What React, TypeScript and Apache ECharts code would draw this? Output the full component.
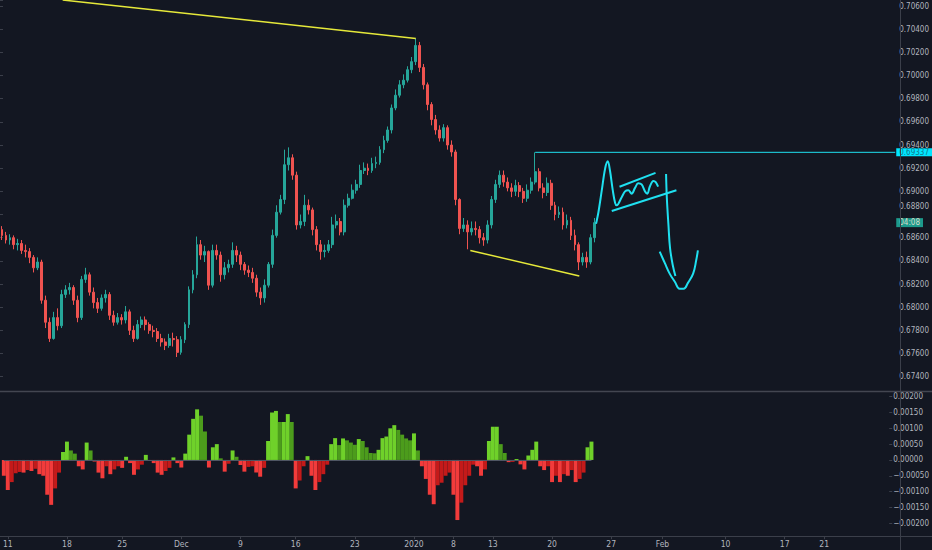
import { useEffect, useRef } from "react";
import * as echarts from "echarts";

// ---- price data (one candle per slot) ----
const firstOpen = 0.6867;
const closes = [
  0.6862, 0.6858, 0.686, 0.6854, 0.6855, 0.6849, 0.6848, 0.6843, 0.6834, 0.6839,
  0.6806, 0.6787, 0.6773, 0.6791, 0.6784, 0.6811, 0.6815, 0.6817, 0.6806, 0.6791,
  0.6824, 0.6828, 0.6813, 0.6804, 0.6799, 0.6808, 0.6811, 0.6793, 0.6787, 0.6791,
  0.6789, 0.6796, 0.678, 0.6773, 0.6785, 0.6789, 0.6785, 0.678, 0.6779, 0.6773,
  0.677, 0.6767, 0.6773, 0.6772, 0.6761, 0.6772, 0.6785, 0.6815, 0.6828, 0.6854,
  0.6845, 0.6848, 0.6819, 0.6849, 0.6845, 0.6828, 0.6834, 0.6837, 0.6849, 0.6845,
  0.6837, 0.6832, 0.683, 0.6825, 0.6813, 0.6808, 0.6819, 0.6837, 0.6862, 0.6882,
  0.6893, 0.6923, 0.6929, 0.6914, 0.6871, 0.6874, 0.6888, 0.6884, 0.6867, 0.6854,
  0.6848, 0.6849, 0.6854, 0.6871, 0.6874, 0.6865, 0.6888, 0.6894, 0.6901, 0.6906,
  0.6918, 0.692, 0.6918, 0.6924, 0.6925, 0.6936, 0.6944, 0.6953, 0.6972, 0.6983,
  0.6992, 0.6996, 0.7005, 0.7012, 0.7026, 0.7007, 0.6992, 0.6975, 0.6962, 0.6953,
  0.6946, 0.6955, 0.694, 0.6934, 0.6893, 0.6868, 0.6871, 0.6865, 0.6868, 0.6867,
  0.686, 0.6858, 0.6871, 0.6893, 0.6906, 0.6914, 0.6908, 0.6903, 0.69, 0.6905,
  0.69, 0.6894, 0.6901, 0.6908, 0.6917, 0.6903, 0.6899, 0.6907, 0.6888, 0.688,
  0.6882, 0.6871, 0.6875, 0.6862, 0.6854, 0.6839, 0.6843, 0.6839, 0.686, 0.6873,
];
const highs = [
  0.687, 0.6865, 0.6863, 0.6862, 0.6859, 0.6858, 0.6854, 0.6851, 0.6845, 0.6843,
  0.6841, 0.681, 0.6791, 0.6796, 0.6799, 0.6815, 0.6819, 0.6821, 0.6819, 0.681,
  0.6827, 0.6834, 0.683, 0.6817, 0.6808, 0.6811, 0.6815, 0.6813, 0.6797, 0.6795,
  0.6794, 0.6801, 0.6798, 0.6784, 0.6789, 0.6792, 0.6792, 0.6787, 0.6784, 0.6782,
  0.6777, 0.6773, 0.6777, 0.6778, 0.6775, 0.6775, 0.6787, 0.6818, 0.6832, 0.6861,
  0.6858, 0.6853, 0.6849, 0.6854, 0.6854, 0.6848, 0.6839, 0.6841, 0.6856, 0.6853,
  0.6848, 0.6839, 0.6836, 0.6834, 0.6828, 0.6817, 0.6824, 0.6839, 0.6867, 0.6888,
  0.6897, 0.6936, 0.6938, 0.6932, 0.6917, 0.688, 0.6897, 0.6893, 0.6886, 0.687,
  0.6858, 0.6854, 0.6858, 0.6878, 0.688, 0.6877, 0.6893, 0.6898, 0.6906, 0.691,
  0.6923, 0.6925, 0.6924, 0.6929, 0.693, 0.6939, 0.6948, 0.6956, 0.6975, 0.6988,
  0.6996, 0.7001, 0.7008, 0.7016, 0.7032, 0.7029, 0.701, 0.6994, 0.6977, 0.6966,
  0.6957, 0.6958, 0.6957, 0.6944, 0.6936, 0.6894, 0.6877, 0.6875, 0.6874, 0.6874,
  0.687, 0.6864, 0.6875, 0.6896, 0.691, 0.6918, 0.6918, 0.6912, 0.6907, 0.691,
  0.6908, 0.6903, 0.6906, 0.6912, 0.69337, 0.692, 0.6907, 0.6912, 0.691, 0.6891,
  0.6887, 0.6886, 0.688, 0.6878, 0.6867, 0.6856, 0.6847, 0.6848, 0.6863, 0.6877,
];
const lows = [
  0.6858, 0.6855, 0.6854, 0.685, 0.6849, 0.6846, 0.6843, 0.6838, 0.683, 0.6832,
  0.6803, 0.6782, 0.677, 0.6772, 0.678, 0.6782, 0.6808, 0.6811, 0.6802, 0.6787,
  0.6789, 0.6821, 0.681, 0.6799, 0.6795, 0.6797, 0.6804, 0.6789, 0.6784, 0.6785,
  0.6785, 0.6786, 0.6776, 0.677, 0.6772, 0.6782, 0.678, 0.6777, 0.6774, 0.677,
  0.6766, 0.6763, 0.6765, 0.6766, 0.6757, 0.6759, 0.6769, 0.6782, 0.6812, 0.6825,
  0.6841, 0.6839, 0.6815, 0.6817, 0.6841, 0.6822, 0.6824, 0.683, 0.6834, 0.6839,
  0.6832, 0.6828, 0.6826, 0.6821, 0.6809, 0.6802, 0.6804, 0.6817, 0.6834, 0.686,
  0.688, 0.6889, 0.6918, 0.691, 0.6867, 0.6868, 0.687, 0.688, 0.6862, 0.6849,
  0.6841, 0.6843, 0.6847, 0.6851, 0.6868, 0.6862, 0.6862, 0.6886, 0.6893, 0.6898,
  0.6903, 0.6915, 0.6914, 0.6916, 0.692, 0.6923, 0.6933, 0.6942, 0.695, 0.697,
  0.6981, 0.6989, 0.6994, 0.7002, 0.7009, 0.7003, 0.6988, 0.697, 0.6957, 0.6949,
  0.6943, 0.6943, 0.6936, 0.693, 0.6888, 0.6863, 0.6865, 0.685, 0.6862, 0.6862,
  0.6855, 0.6853, 0.6855, 0.6868, 0.689, 0.6903, 0.6904, 0.69, 0.6895, 0.6896,
  0.6895, 0.689, 0.6891, 0.6898, 0.6906, 0.69, 0.6894, 0.6896, 0.6884, 0.6875,
  0.6877, 0.6867, 0.6868, 0.6858, 0.6849, 0.6832, 0.6836, 0.6834, 0.6837, 0.6856,
];

// ---- momentum histogram ----
const momentum = [
  -0.0005, -0.00095, -0.0007, -0.00042, -0.00038, -0.0004, -0.00032, -0.00035, -0.00028, -0.00045,
  -0.0005, -0.0011, -0.00142, -0.0009, -0.0004, 0.00025, 0.00058, 0.0003, 0.0002, -0.0002,
  -0.0003, 0.00055, 0.0003, -0.00005, -0.0004, -0.00058, -0.0002, -0.00045, -0.0003, -0.0002,
  -0.00025, 0.0001, -0.0001, -0.00047, -0.0003, -0.00015, 0.00016, -0.00003, -0.0001, -0.0004,
  -0.00047, -0.00035, -0.00025, 0.00008, -0.0001, -0.00024, 0.0002, 0.0008, 0.0013, 0.0016,
  0.0014, 0.0009, -0.00024, 0.0004, 0.0005, 0.00005, -0.00037, -0.00012, 0.0003, 0.0001,
  -0.00016, -0.00037, -0.00022, -0.0002, -0.0004, -0.00053, -0.00025, 0.0006, 0.0015, 0.00155,
  0.0012, 0.0012, 0.00145, 0.0012, -0.0009, -0.00065, -0.0002, 0.00012, -0.0005, -0.00095,
  -0.0007, -0.00045, -0.00015, 0.0005, 0.00069, 0.00047, 0.00068, 0.00062, 0.00055, 0.00048,
  0.00066, 0.0006, 0.0004, 0.00022, 0.00021, 0.00032, 0.00069, 0.00074, 0.001, 0.0011,
  0.00095, 0.0008, 0.00068, 0.00062, 0.00084, 0.0003, -0.0002, -0.0006, -0.0011, -0.0014,
  -0.0008, -0.00072, -0.0005, -0.0004, -0.0011, -0.0019, -0.00135, -0.0008, -0.0005, -0.00015,
  -0.0002, -0.0005, -0.0003, 0.0006, 0.00105, 0.00105, 0.0005, 0.00022, -0.00007, -0.00006,
  0.00003, -0.00014, -0.0003, 0.00014, 0.00032, 0.00058, -0.0002, -0.00032, -0.0002, -0.0007,
  -0.0005, -0.0007, -0.00045, -0.0005, -0.00032, -0.0007, -0.0006, -0.0004, 0.0004, 0.00058,
];

// ---- axis ----
const totalSlots = 225;
const xTickIndex = [1, 16, 30, 45, 60, 74, 89, 104, 114, 124, 139, 154, 167, 183, 198, 208];
const xTickText = ["11", "18", "25", "Dec", "9", "16", "23", "2020", "8", "13", "20", "27", "Feb", "10", "17", "21"];
const priceStep = 0.002;
const momentumStep = 0.0005;
const resistancePrice = 0.69337;
const lastPriceText = "04:08";

// ---- hand drawings: [slot position, price] ----
const drawTopTrend = [[15.75, 0.70652], [104.5, 0.7032]];
const drawBottomTrend = [[118.2, 0.6849], [145.6, 0.6827]];
const drawResistance = [[134.5, resistancePrice], [225, resistancePrice]];
const drawWave = [
  [149.8, 0.6872], [150.4, 0.6882], [151.25, 0.6901], [152.1, 0.692], [152.75, 0.6926],
  [153.3, 0.6918], [154, 0.6901], [154.6, 0.689], [155, 0.6888], [156.25, 0.6895],
  [157.1, 0.69], [157.9, 0.6901], [158.75, 0.6898], [159.6, 0.6903], [160.4, 0.6907],
  [161.25, 0.6906], [162.1, 0.69], [162.7, 0.6898], [163.3, 0.6904], [164.2, 0.6909],
  [164.8, 0.6908], [165.4, 0.6904],
];
const drawWaveTop = [[155.7, 0.6904], [164.75, 0.6916]];
const drawWaveBottom = [[153.75, 0.6883], [170, 0.6901]];
const drawArrowStem = [[167.4, 0.6915], [167.6, 0.6894], [168, 0.6871], [168.4, 0.6851], [169.1, 0.6836], [169.75, 0.6827]];
const drawArrowHead = [
  [165.8, 0.6848], [167.1, 0.6838], [168.3, 0.6829], [169.6, 0.6822], [170.8, 0.6816],
  [171.8, 0.6816], [172.9, 0.6821], [174.2, 0.6829], [175, 0.6841], [175.4, 0.6849],
];

const FONT = "'Liberation Sans Narrow', 'Arial Narrow', 'DejaVu Sans Condensed', Roboto, sans-serif";
const BG = "#131722";
const TEXT = "#b2b5be";
const LINE = "#3b3f4a";
const UP = "#26a69a";
const DOWN = "#ef5350";
const YELLOW = "#e6e93a";
const CYAN = "#1fe0f0";

function isStep(v: number, step: number) {
  const k = v / step;
  return Math.abs(k - Math.round(k)) < 1e-6;
}
function fmt(v: number) {
  const s = Math.abs(v).toFixed(5);
  return v < -1e-9 ? "\u2212" + s : s;
}

export default function App() {
  const ref = useRef<HTMLDivElement>(null);

  useEffect(() => {
    const chart = echarts.init(ref.current!, null, { renderer: "svg" });

    const cats = Array.from({ length: totalSlots }, (_, i) => "s" + i);
    const tickMap: Record<number, string> = {};
    xTickIndex.forEach((idx, k) => (tickMap[idx] = xTickText[k]));

    const lastClose = closes[closes.length - 1];
    const candles = closes.map((c, i) => [i === 0 ? firstOpen : closes[i - 1], c, lows[i], highs[i]]);

    const histo = momentum.map((v, i) => {
      const prev = i === 0 ? v : momentum[i - 1];
      let color;
      if (v >= 0) color = v >= prev ? "#6fd12a" : "#4c9c1c";
      else color = v <= prev ? "#f23b3b" : "#c41a1a";
      return { value: v, itemStyle: { color } };
    });

    // price-axis labels that would collide with the last-price tag get pushed upward
    const priceLabel = (v: number) => {
      if (!isStep(v, priceStep)) return "";
      const d = v - lastClose;
      if (d > 0 && d < 0.0009) return "{shift|" + fmt(v) + "}";
      return fmt(v);
    };
    const momLabel = (v: number) => (isStep(v, momentumStep) ? fmt(v) : "");

    const drawLine = (data: number[][], color: string, width: number, smooth: any = false, extra: any = {}) => ({
      type: "line",
      xAxisIndex: 2,
      yAxisIndex: 0,
      data,
      showSymbol: false,
      symbol: "none",
      smooth,
      silent: true,
      lineStyle: { color, width },
      z: 5,
      ...extra,
    });

    const option: any = {
      animation: false,
      backgroundColor: BG,
      textStyle: { fontFamily: FONT },
      grid: [
        { left: 0, top: 0, width: 900, height: 376.7 },
        { left: 0, top: 391, width: 900, height: 132.2 },
      ],
      xAxis: [
        { type: "category", gridIndex: 0, data: cats, show: false, boundaryGap: true },
        {
          type: "category",
          gridIndex: 1,
          data: cats,
          boundaryGap: true,
          offset: 13,
          axisLine: { show: false, onZero: false },
          axisTick: {
            show: true,
            length: 3,
            alignWithLabel: true,
            interval: (i: number) => tickMap[i] !== undefined,
            lineStyle: { color: LINE },
          },
          axisLabel: {
            interval: (i: number) => tickMap[i] !== undefined,
            formatter: (_: string, i: number) => tickMap[i] ?? "",
            color: TEXT,
            fontSize: 8.5,
            fontFamily: FONT,
            margin: 3,
          },
          splitLine: { show: false },
        },
        { type: "value", gridIndex: 0, min: 0, max: totalSlots, show: false },
      ],
      yAxis: [
        {
          type: "value",
          gridIndex: 0,
          position: "right",
          min: 0.674,
          max: 0.70652,
          interval: priceStep,
          axisLine: { show: false },
          axisTick: { show: true, length: 3, lineStyle: { color: LINE } },
          axisLabel: {
            formatter: priceLabel,
            color: TEXT,
            fontSize: 8,
            fontFamily: FONT,
            margin: 4,
            rich: { shift: { color: TEXT, fontSize: 8, fontFamily: FONT, padding: [0, 0, 17, 0] } },
          },
          splitLine: { show: false },
        },
        {
          type: "value",
          gridIndex: 1,
          position: "right",
          min: -0.002,
          max: 0.00218,
          interval: momentumStep,
          axisLine: { show: false },
          axisTick: { show: true, length: 3, lineStyle: { color: LINE } },
          axisLabel: { formatter: momLabel, color: TEXT, fontSize: 8, fontFamily: FONT, margin: 4 },
          splitLine: { show: false },
        },
      ],
      series: [
        {
          type: "candlestick",
          xAxisIndex: 0,
          yAxisIndex: 0,
          data: candles,
          barWidth: "60%",
          itemStyle: { color: UP, color0: DOWN, borderColor: UP, borderColor0: DOWN, borderWidth: 1 },
          silent: true,
        },
        {
          type: "bar",
          xAxisIndex: 1,
          yAxisIndex: 1,
          data: histo,
          barWidth: "100%",
          barCategoryGap: "0%",
          silent: true,
          markLine: {
            silent: true,
            symbol: ["none", "none"],
            label: { show: false },
            lineStyle: { color: "#4e5563", width: 1, type: "solid" },
            data: [[{ coord: [0, 0] }, { coord: [closes.length - 1, 0] }]],
          },
        },
        drawLine(drawTopTrend, YELLOW, 1.5),
        drawLine(drawBottomTrend, YELLOW, 1.5),
        drawLine(drawResistance, CYAN, 1, false, {
          endLabel: {
            show: true,
            formatter: resistancePrice.toFixed(5),
            backgroundColor: "#00e5ff",
            color: "#137a8c",
            fontSize: 8,
            lineHeight: 8,
            fontFamily: FONT,
            padding: [0, 3, 0, 3],
            distance: 1,
          },
        }),
        drawLine([[224, lastClose], [225, lastClose]], "rgba(0,0,0,0)", 0, false, {
          endLabel: {
            show: true,
            formatter: lastPriceText,
            backgroundColor: "#1d9a8c",
            color: "#d6dbc8",
            fontSize: 8,
            lineHeight: 9,
            fontFamily: FONT,
            padding: [0, 3, 0, 3],
            distance: 1,
          },
        }),
        drawLine(drawWave, CYAN, 2, 0.35),
        drawLine(drawWaveTop, CYAN, 2),
        drawLine(drawWaveBottom, CYAN, 2),
        drawLine(drawArrowStem, CYAN, 2, 0.4),
        drawLine(drawArrowHead, CYAN, 2, 0.45),
      ],
      graphic: [
        { type: "line", shape: { x1: 900.5, y1: 0, x2: 900.5, y2: 550 }, style: { stroke: LINE, lineWidth: 1 }, silent: true, z: 10 },
        { type: "line", shape: { x1: 0, y1: 391.5, x2: 932, y2: 391.5 }, style: { stroke: "#434651", lineWidth: 1.5 }, silent: true, z: 10 },
        { type: "line", shape: { x1: 0, y1: 536.5, x2: 932, y2: 536.5 }, style: { stroke: LINE, lineWidth: 1 }, silent: true, z: 10 },
      ],
    };

    chart.setOption(option);
    return () => chart.dispose();
  }, []);

  return (
    <div
      ref={ref}
      style={{ position: "fixed", left: 0, top: 0, width: 932, height: 550, background: BG }}
    />
  );
}
